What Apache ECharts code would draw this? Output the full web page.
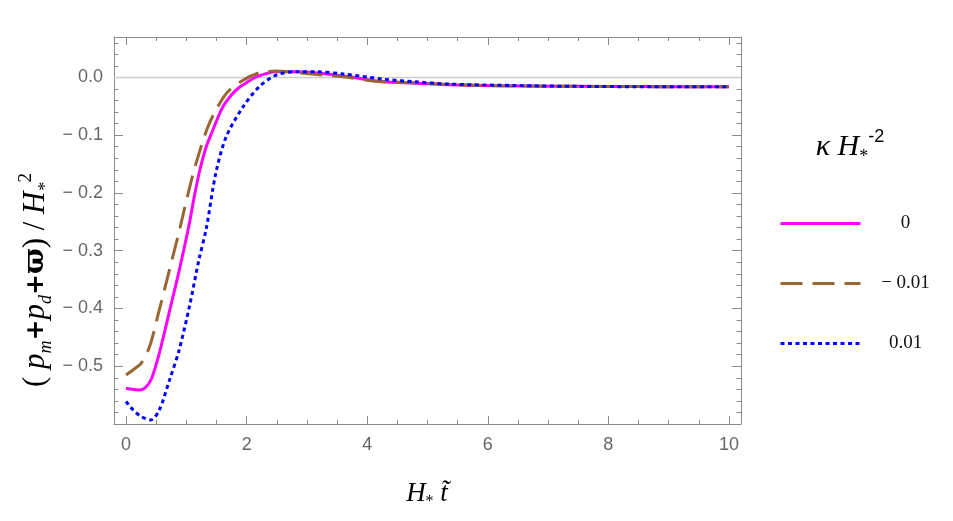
<!DOCTYPE html>
<html>
<head>
<meta charset="utf-8">
<script src="https://cdn.jsdelivr.net/npm/echarts@6/dist/echarts.min.js"></script>
<style>
  html, body { margin: 0; padding: 0; background: #fff; }
  #main { width: 953px; height: 521px; }
</style>
</head>
<body>
<div id="main"></div>
<script>
// values
var seriesNames = ['0', '\u2212 0.01', '0.01'];

var tPink = [0, 0.1, 0.22, 0.32, 0.42, 0.55, 0.72, 0.88, 1.05, 1.13, 1.22, 1.33, 1.44, 1.6, 1.75, 1.88, 2.0, 2.16, 2.49, 2.82, 3.26, 3.7, 4.25, 4.81, 5.36, 6.2, 7, 8, 9, 10];
var yPink = [-0.538, -0.540, -0.541, -0.537, -0.522, -0.478, -0.405, -0.335, -0.253, -0.207, -0.162, -0.12, -0.091, -0.052, -0.030, -0.017, -0.009, 0.001, 0.0097, 0.0097, 0.007, 0.001, -0.0076, -0.010, -0.0128, -0.0145, -0.0152, -0.0157, -0.016, -0.016];

var tBrown = [0, 0.12, 0.25, 0.39, 0.55, 0.72, 0.88, 1.02, 1.16, 1.38, 1.66, 1.94, 2.21, 2.49, 2.87, 3.3, 3.6, 4.1, 4.7, 5.4, 6.2, 7, 8, 9, 10];
var yBrown = [-0.515, -0.506, -0.495, -0.466, -0.403, -0.333, -0.267, -0.205, -0.149, -0.080, -0.028, -0.005, 0.008, 0.011, 0.008, 0.004, 0.001, -0.006, -0.009, -0.0125, -0.0145, -0.0152, -0.0157, -0.016, -0.016];

var tBlue = [0, 0.12, 0.25, 0.41, 0.55, 0.72, 0.88, 1.05, 1.21, 1.33, 1.49, 1.66, 1.94, 2.21, 2.49, 2.82, 3.16, 3.6, 4.26, 4.81, 5.36, 6.47, 7.5, 8.5, 10];
var yBlue = [-0.561, -0.576, -0.587, -0.593, -0.576, -0.524, -0.472, -0.397, -0.315, -0.262, -0.165, -0.103, -0.051, -0.016, 0.004, 0.010, 0.0097, 0.006, -0.003, -0.0076, -0.0116, -0.014, -0.0155, -0.016, -0.016];

var xMajor = [0, 2, 4, 6, 8, 10];
var yMajor = [-0.5, -0.4, -0.3, -0.2, -0.1, 0];

function pairs(t, y) {
  return t.map(function (v, i) { return [v, y[i]]; });
}

// minor tick positions
var xMinor = [];
for (var i = 0; i <= 40; i++) {
  if (i % 2 === 0 && i % 8 !== 0) xMinor.push(+(i * 0.25).toFixed(2));
}
var yMinor = [];
for (var j = -29; j <= 3; j++) {
  if (j % 5 !== 0) yMinor.push(+(j * 0.02).toFixed(2));
}

var frame = '#8a8a8a';
var tickFont = { color: '#666', fontSize: 18, fontFamily: 'Liberation Sans' };

function xAx(pos, values, len, labels, line) {
  return {
    type: 'value', position: pos, min: -0.2, max: 10.2, gridIndex: 0,
    axisLine: { show: line, onZero: false, lineStyle: { color: frame, width: 1 } },
    axisTick: { show: true, inside: true, length: len, customValues: values, lineStyle: { color: frame, width: 1 } },
    axisLabel: labels ? Object.assign({ customValues: values, margin: 12 }, tickFont) : { show: false },
    splitLine: { show: false }
  };
}
function yAx(pos, values, len, labels, line) {
  return {
    type: 'value', position: pos, min: -0.6, max: 0.07, gridIndex: 0,
    axisLine: { show: line, onZero: false, lineStyle: { color: frame, width: 1 } },
    axisTick: { show: true, inside: true, length: len, customValues: values, lineStyle: { color: frame, width: 1 } },
    axisLabel: labels ? Object.assign({
      customValues: values, margin: 11,
      formatter: function (v) { return Math.abs(v) < 1e-9 ? '0.0' : '\u2212 ' + Math.abs(v).toFixed(1); }
    }, tickFont) : { show: false },
    splitLine: { show: false }
  };
}

var chart = echarts.init(document.getElementById('main'), null, { renderer: 'canvas' });

var option = {
  animation: false,
  backgroundColor: '#fff',
  grid: { left: 114, top: 37, width: 627, height: 387, containLabel: false },
  xAxis: [
    xAx('bottom', xMajor, 8, true, true),
    xAx('bottom', xMinor, 4, false, false),
    xAx('top', xMajor, 8, false, true),
    xAx('top', xMinor, 4, false, false)
  ],
  yAxis: [
    yAx('left', yMajor, 9, true, true),
    yAx('left', yMinor, 4.5, false, false),
    yAx('right', yMajor, 9, false, true),
    yAx('right', yMinor, 4.5, false, false)
  ],
  legend: {
    orient: 'vertical',
    left: 779,
    top: 214,
    padding: 0,
    itemWidth: 80,
    itemHeight: 14,
    itemGap: 41,
    data: seriesNames,
    itemStyle: { opacity: 0 },
    lineStyle: { width: 3 },
    formatter: '{v|{name}}',
    textStyle: {
      rich: { v: { width: 80, align: 'center', fontFamily: 'Liberation Serif', fontSize: 19, color: '#111', lineHeight: 22 } }
    }
  },
  series: [
    {
      name: seriesNames[0], type: 'line', xAxisIndex: 0, yAxisIndex: 0,
      data: pairs(tPink, yPink), symbol: 'none', smooth: 0.3, z: 3,
      lineStyle: { color: '#ff00ff', width: 3, type: 'solid' },
      itemStyle: { color: '#ff00ff' },
      markLine: {
        silent: true, symbol: ['none', 'none'], z: 1,
        label: { show: false },
        lineStyle: { color: '#cccccc', width: 1.3, type: 'solid' },
        data: [{ yAxis: 0 }]
      }
    },
    {
      name: seriesNames[1], type: 'line', xAxisIndex: 0, yAxisIndex: 0,
      data: pairs(tBrown, yBrown), symbol: 'none', smooth: 0.3, z: 4,
      lineStyle: { color: '#996633', width: 3, type: [22, 10] },
      itemStyle: { color: '#996633' }
    },
    {
      name: seriesNames[2], type: 'line', xAxisIndex: 0, yAxisIndex: 0,
      data: pairs(tBlue, yBlue), symbol: 'none', smooth: 0.3, z: 5,
      lineStyle: { color: '#0000ff', width: 3, type: [4, 3.5] },
      itemStyle: { color: '#0000ff' }
    }
  ],
  graphic: [
    {
      type: 'text', x: 36, y: 280, rotation: Math.PI / 2,
      style: {
        text: '{n|( }{i|p}{s|m}{b|+}{i|p}{s|d}{b|+}{w|\u03d6}{n|) / }{i|H}{s|*}{u|2}',
        textAlign: 'center', textVerticalAlign: 'middle', fill: '#000',
        rich: {
          n: { fontFamily: 'Liberation Serif', fontSize: 31, lineHeight: 38, fill: '#000' },
          i: { fontFamily: 'Liberation Serif', fontStyle: 'italic', fontSize: 31, lineHeight: 38, fill: '#000' },
          s: { fontFamily: 'Liberation Serif', fontStyle: 'italic', fontSize: 18, lineHeight: 38, verticalAlign: 'bottom', fill: '#000' },
          u: { fontFamily: 'Liberation Serif', fontSize: 19, lineHeight: 38, verticalAlign: 'top', fill: '#000' },
          b: { fontFamily: 'DejaVu Sans', fontWeight: 'bold', fontSize: 25, lineHeight: 38, fill: '#000' },
          w: { fontFamily: 'DejaVu Serif', fontWeight: 'bold', fontSize: 27, lineHeight: 38, fill: '#000' }
        }
      }
    },
    {
      type: 'text', x: 427, y: 494,
      style: {
        text: '{i|H}{s|*}{i| t\u0303}',
        textAlign: 'center', textVerticalAlign: 'middle', fill: '#000',
        rich: {
          i: { fontFamily: 'Liberation Serif', fontStyle: 'italic', fontSize: 27, lineHeight: 32, fill: '#000' },
          s: { fontFamily: 'Liberation Serif', fontSize: 16, lineHeight: 32, verticalAlign: 'bottom', fill: '#000' }
        }
      }
    },
    {
      type: 'text', x: 850, y: 147,
      style: {
        text: '{i|\u03ba}{n| }{i|H}{s|*}{u|-2}',
        textAlign: 'center', textVerticalAlign: 'middle', fill: '#000',
        rich: {
          i: { fontFamily: 'Liberation Serif', fontStyle: 'italic', fontSize: 30, lineHeight: 38, fill: '#000' },
          n: { fontFamily: 'Liberation Serif', fontSize: 30, lineHeight: 38, fill: '#000' },
          s: { fontFamily: 'Liberation Serif', fontSize: 18, lineHeight: 38, verticalAlign: 'bottom', fill: '#000' },
          u: { fontFamily: 'Liberation Sans', fontSize: 18, lineHeight: 38, verticalAlign: 'top', fill: '#000' }
        }
      }
    }
  ]
};

chart.setOption(option);
</script>
</body>
</html>
